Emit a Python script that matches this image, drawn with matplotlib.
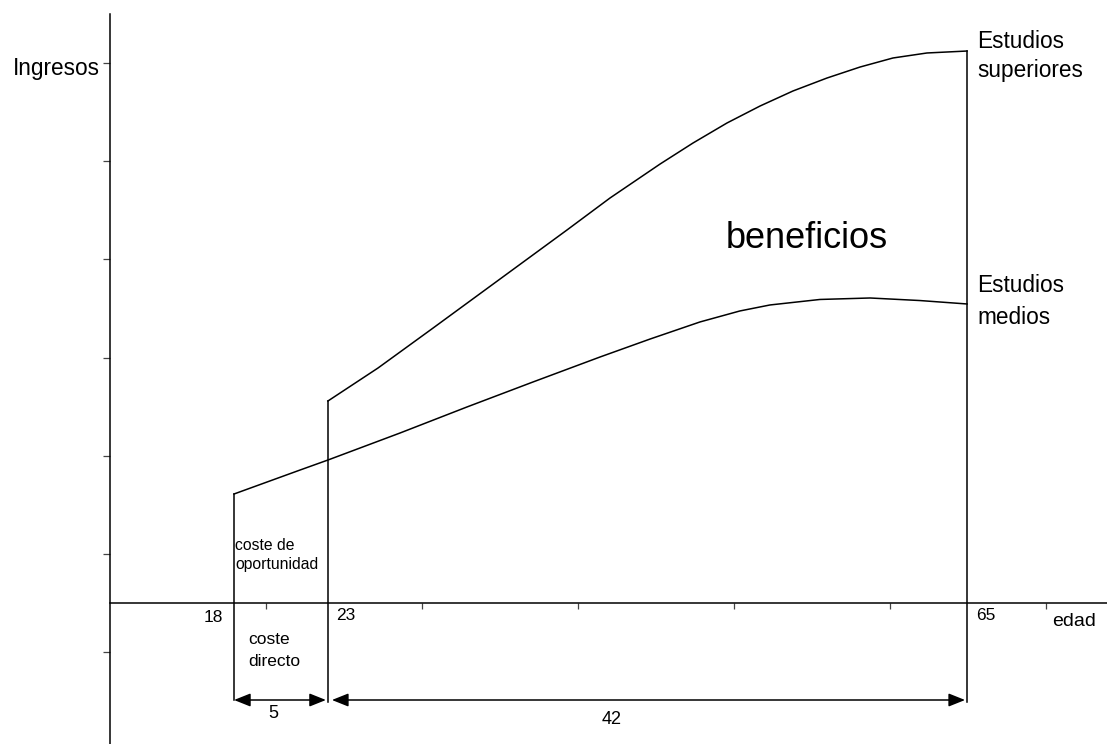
import matplotlib
matplotlib.use("Agg")
import matplotlib.pyplot as plt

plt.rcParams['font.family'] = ['Liberation Sans', 'DejaVu Sans']

# Schematic coordinates (x: tick units along the age axis, y: tick units of income)
ages_labels = ["18", "23", "65"]
ages_pos = [0.795, 1.397, 5.494]

medios_x = [0.795, 1.218, 1.397, 1.859, 2.288, 2.712, 3.141, 3.462, 3.782, 4.038,
            4.231, 4.551, 4.872, 5.192, 5.494]
medios_y = [1.110, 1.354, 1.456, 1.731, 1.996, 2.251, 2.505, 2.688, 2.862, 2.974,
            3.035, 3.091, 3.106, 3.080, 3.045]

sup_x = [1.397, 1.718, 2.071, 2.500, 2.929, 3.205, 3.526, 3.737, 3.955, 4.167,
         4.378, 4.596, 4.808, 5.019, 5.237, 5.494]
sup_y = [2.057, 2.393, 2.800, 3.299, 3.798, 4.124, 4.470, 4.684, 4.888, 5.061,
         5.214, 5.346, 5.458, 5.550, 5.601, 5.621]

xticks = [1, 2, 3, 4, 5, 6]
yticks = [-0.5, 0.5, 1.5, 2.5, 3.5, 4.5, 5.5]

spans = ["5", "42"]

fig = plt.figure(figsize=(11.07, 7.44), dpi=100)
ax = fig.add_axes([0, 0, 1, 1])
xu, yu = 156.0, 98.2
ax.set_xlim(-110 / xu, (1107 - 110) / xu)
ax.set_ylim((603 - 744) / yu, 603 / yu)

for s in ['top', 'right']:
    ax.spines[s].set_visible(False)
ax.spines['left'].set_position(('data', 0))
ax.spines['bottom'].set_position(('data', 0))
ax.spines['left'].set_bounds((603 - 744) / yu, (603 - 14) / yu)
ax.spines['bottom'].set_bounds(0, (1107 - 110) / xu)
for s in ['left', 'bottom']:
    ax.spines[s].set_linewidth(1.1)

ax.set_xticks(xticks)
ax.set_yticks(yticks)
ax.set_xticklabels([])
ax.set_yticklabels([])
ax.tick_params(axis='x', direction='out', length=4.5, width=0.9, color='#444444')
ax.tick_params(axis='y', direction='out', length=5, width=0.9, color='#444444')

lw = 1.1
ax.plot(medios_x, medios_y, color='black', lw=lw, solid_joinstyle='round')
ax.plot(sup_x, sup_y, color='black', lw=lw, solid_joinstyle='round')

y_arrow = (603 - 700) / yu
y_bot = (603 - 702) / yu
# vertical lines
ax.plot([ages_pos[0], ages_pos[0]], [y_arrow, medios_y[0]], color='black', lw=lw)
ax.plot([ages_pos[1], ages_pos[1]], [y_bot, sup_y[0]], color='black', lw=lw)
ax.plot([ages_pos[2], ages_pos[2]], [y_bot, sup_y[-1]], color='black', lw=lw)

# dimension arrows
gap = 2 / xu
arrowprops = dict(arrowstyle='<|-|>,head_length=1.0,head_width=0.4', color='black',
                  lw=lw, shrinkA=0, shrinkB=0)
ax.annotate('', xy=(ages_pos[1] - gap, y_arrow), xytext=(ages_pos[0], y_arrow),
            arrowprops=arrowprops)
ax.annotate('', xy=(ages_pos[2] - gap, y_arrow), xytext=(ages_pos[1] + 2 * gap, y_arrow),
            arrowprops=arrowprops)


def px(x):
    return (x - 110) / xu


def py(y):
    return (603 - y) / yu


# texts
big = 16.3
ax.text(px(100), py(68), "Ingresos", ha='right', va='center', fontsize=big)
ax.text(px(977), py(41), "Estudios", ha='left', va='center', fontsize=big)
ax.text(px(977), py(70), "superiores", ha='left', va='center', fontsize=big)
ax.text(px(977), py(285), "Estudios", ha='left', va='center', fontsize=big)
ax.text(px(977), py(318), "medios", ha='left', va='center', fontsize=big)
ax.text(px(807), py(238), "beneficios", ha='center', va='center', fontsize=26)
ax.text(px(235), py(545), "coste de", ha='left', va='center', fontsize=11.3)
ax.text(px(235), py(564), "oportunidad", ha='left', va='center', fontsize=11.3)
ax.text(px(248), py(640), "coste", ha='left', va='center', fontsize=12.5)
ax.text(px(248), py(662), "directo", ha='left', va='center', fontsize=12.5)
ax.text(px(213), py(617), ages_labels[0], ha='center', va='center', fontsize=12.5)
ax.text(px(336), py(615), ages_labels[1], ha='left', va='center', fontsize=12.5)
ax.text(px(976), py(615), ages_labels[2], ha='left', va='center', fontsize=12.5)
ax.text(px(1052), py(622), "edad", ha='left', va='center', fontsize=14)
ax.text(px(273), py(713), spans[0], ha='center', va='center', fontsize=13)
ax.text(px(612), py(719), spans[1], ha='center', va='center', fontsize=13)

fig.savefig("out.png", dpi=100)
